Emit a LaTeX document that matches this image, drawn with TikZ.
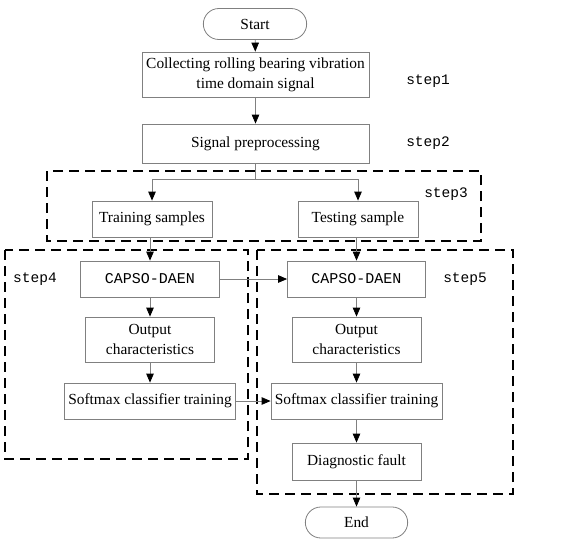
\documentclass[tikz,border=0pt]{standalone}
\usepackage{fontspec}
\setmainfont{Liberation Serif}
\newfontfamily\monofnt{Liberation Mono}
\usetikzlibrary{shapes.misc,arrows.meta}
\definecolor{boxgray}{HTML}{808080}
\tikzset{
  procbox/.style={draw=boxgray,line width=0.8pt,rectangle,align=center,inner sep=1pt,font=\fontsize{15.4}{20}\selectfont},
  termbox/.style={draw=boxgray,line width=0.8pt,rounded rectangle,font=\fontsize{15.4}{20}\selectfont},
  conn/.style={draw=boxgray,line width=0.8pt,-{Triangle[length=9pt,width=7.5pt,fill=black,color=black]}},
  plainconn/.style={draw=boxgray,line width=0.8pt},
  stepgroup/.style={draw=black,line width=2.2pt,dash pattern=on 10pt off 6pt},
  steplabel/.style={font=\monofnt\fontsize{14.5}{16}\selectfont},
  monotext/.style={font=\monofnt\fontsize{15}{18}\selectfont}
}
\begin{document}
\begin{tikzpicture}[x=1pt,y=-1pt]
\useasboundingbox (0,0) rectangle (561,543);
% dashed groups
\draw[stepgroup] (47,171) rectangle (481,241);
\draw[stepgroup] (5,250) rectangle (248,459);
\draw[stepgroup] (257,250) rectangle (513,494);
% nodes
\node[termbox,minimum width=110pt,minimum height=31pt] (start) at (255,24) {Start};
\node[procbox,minimum width=227pt,minimum height=45pt] (collect) at (255.5,74.5) {Collecting rolling bearing vibration\\time domain signal};
\node[procbox,minimum width=227pt,minimum height=39pt] (pre) at (255.5,143.5) {Signal preprocessing};
\node[procbox,minimum width=120pt,minimum height=36pt] (train) at (152,219) {Training samples};
\node[procbox,minimum width=120pt,minimum height=36pt] (test) at (358,219) {Testing sample};
\node[procbox,monotext,minimum width=139pt,minimum height=36pt] (capL) at (150,279) {CAPSO-DAEN};
\node[procbox,monotext,minimum width=138pt,minimum height=36pt] (capR) at (356.5,279) {CAPSO-DAEN};
\node[procbox,minimum width=129pt,minimum height=45pt] (outL) at (150,339.5) {Output\\characteristics};
\node[procbox,minimum width=129pt,minimum height=45pt] (outR) at (356.5,339.5) {Output\\characteristics};
\node[procbox,minimum width=171pt,minimum height=36pt] (softL) at (150,401) {Softmax classifier training};
\node[procbox,minimum width=171pt,minimum height=36pt] (softR) at (356.5,401) {Softmax classifier training};
\node[procbox,minimum width=129pt,minimum height=37pt] (diag) at (356.5,461.5) {Diagnostic fault};
\node[termbox,minimum width=109pt,minimum height=31pt] (end) at (356.5,522.5) {End};
% step labels
\node[steplabel] (s1) at (428,81) {step1};
\node[steplabel] (s2) at (428,143) {step2};
\node[steplabel] (s3) at (446,194) {step3};
\node[steplabel] (s4) at (35,279) {step4};
\node[steplabel] (s5) at (465,279) {step5};
% connectors
\coordinate (split) at (255.5,179);
\draw[conn] (start) -- (collect);
\draw[conn] (collect) -- (pre);
\draw[plainconn] (pre.south) -- (split);
\draw[conn] (split) -| (train.north);
\draw[conn] (split) -| (test.north);
\draw[conn] (train.south -| capL.north) -- (capL.north);
\draw[conn] (test.south -| capR.north) -- (capR.north);
\draw[conn] (capL) -- (capR);
\draw[conn] (capL) -- (outL);
\draw[conn] (outL) -- (softL);
\draw[conn] (softL) -- (softR);
\draw[conn] (capR) -- (outR);
\draw[conn] (outR) -- (softR);
\draw[conn] (softR) -- (diag);
\draw[conn] (diag) -- (end);
\end{tikzpicture}
\end{document}
